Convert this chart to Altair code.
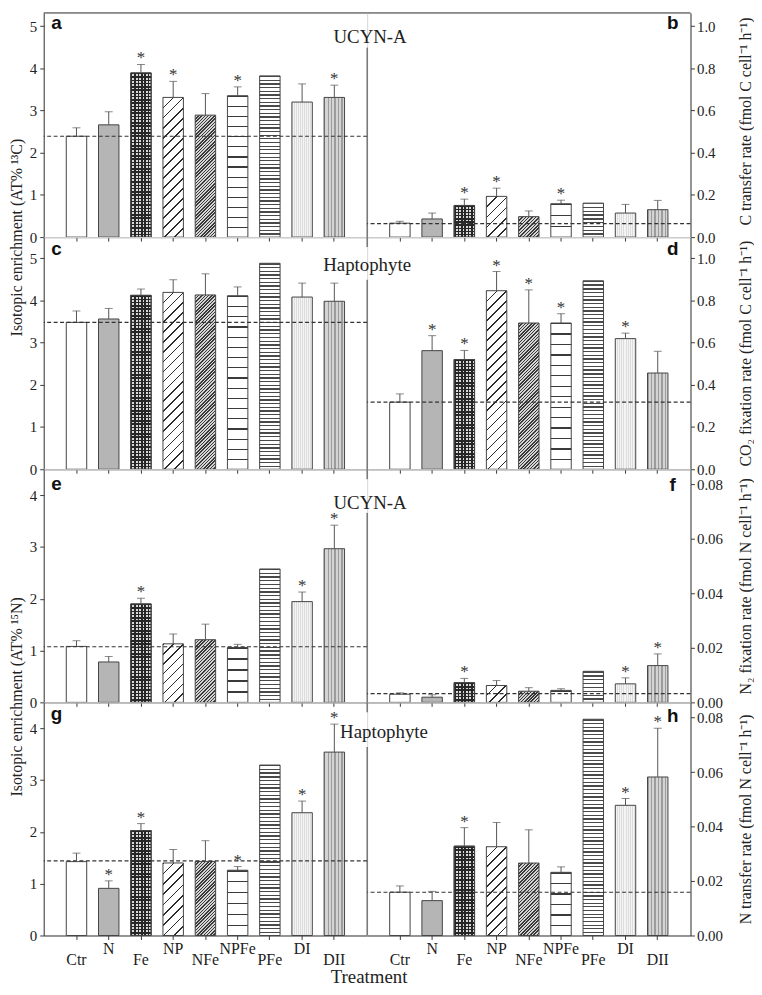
import altair as alt
import pandas as pd

treatments = ["Ctr", "N", "Fe", "NP", "NFe", "NPFe", "PFe", "DI", "DII"]

# a: UCYN-A, 13C enrichment
a_mean = [2.39, 2.66, 3.89, 3.31, 2.89, 3.35, 3.82, 3.20, 3.31]
a_err = [0.20, 0.31, 0.20, 0.38, 0.51, 0.21, 0.00, 0.43, 0.29]
a_sig = [0, 0, 1, 1, 0, 1, 0, 0, 1]
a_ctrl = 2.39
# b: UCYN-A, C transfer rate
b_mean = [0.066, 0.086, 0.150, 0.193, 0.097, 0.158, 0.161, 0.114, 0.130]
b_err = [0.009, 0.028, 0.030, 0.039, 0.027, 0.017, 0.000, 0.041, 0.044]
b_sig = [0, 0, 1, 1, 0, 1, 0, 0, 0]
b_ctrl = 0.064
# c: Haptophyte, 13C enrichment
c_mean = [3.48, 3.56, 4.12, 4.19, 4.13, 4.11, 4.88, 4.08, 3.98]
c_err = [0.27, 0.25, 0.15, 0.30, 0.50, 0.21, 0.00, 0.33, 0.43]
c_sig = [0, 0, 0, 0, 0, 0, 0, 0, 0]
c_ctrl = 3.48
# d: Haptophyte, CO2 fixation rate
d_mean = [0.318, 0.562, 0.520, 0.846, 0.693, 0.693, 0.893, 0.619, 0.456]
d_err = [0.039, 0.071, 0.043, 0.091, 0.157, 0.044, 0.000, 0.026, 0.103]
d_sig = [0, 1, 1, 1, 1, 1, 0, 1, 0]
d_ctrl = 0.318
# e: UCYN-A, 15N enrichment
e_mean = [1.08, 0.78, 1.90, 1.13, 1.21, 1.06, 2.575, 1.945, 2.966]
e_err = [0.11, 0.106, 0.11, 0.19, 0.30, 0.06, 0.00, 0.185, 0.454]
e_sig = [0, 0, 1, 0, 0, 0, 0, 1, 1]
e_ctrl = 1.075
# f: UCYN-A, N2 fixation rate
f_mean = [0.0030, 0.0019, 0.0072, 0.0062, 0.0041, 0.0044, 0.0114, 0.0068, 0.0135]
f_err = [0.0005, 0.0009, 0.0016, 0.0018, 0.0013, 0.0006, 0.0, 0.0022, 0.0043]
f_sig = [0, 0, 1, 0, 0, 0, 0, 1, 1]
f_ctrl = 0.0032
# g: Haptophyte, 15N enrichment
g_mean = [1.426, 0.91, 2.026, 1.40, 1.43, 1.26, 3.29, 2.37, 3.54]
g_err = [0.164, 0.145, 0.134, 0.26, 0.40, 0.07, 0.00, 0.225, 0.54]
g_sig = [0, 1, 1, 0, 0, 1, 0, 1, 1]
g_ctrl = 1.44
# h: Haptophyte, N transfer rate
h_mean = [0.0159, 0.0128, 0.0328, 0.0326, 0.0266, 0.0232, 0.0794, 0.0478, 0.0582]
h_err = [0.0023, 0.0034, 0.0068, 0.0089, 0.0122, 0.0020, 0.0, 0.0025, 0.0179]
h_sig = [0, 0, 1, 0, 0, 0, 0, 1, 1]
h_ctrl = 0.0159

left_ticks_c = [0, 1, 2, 3, 4, 5]
left_ticks_n = [0, 1, 2, 3, 4]
right_ticks_c = [0.0, 0.2, 0.4, 0.6, 0.8, 1.0]
right_ticks_n = [0.0, 0.02, 0.04, 0.06, 0.08]

SERIF = "Liberation Serif, Times New Roman, serif"
SANS = "Liberation Sans, Arial, sans-serif"
INK = "#222222"
LINE = "#3a3a3a"
PW = 326
P_IN, P_OUT = 0.366, 0.70
STEP = PW / (len(treatments) - P_IN + 2 * P_OUT)
BAR_W = STEP * (1 - P_IN)


def stripe_stops(n, frac, line, bg):
    n = max(1, int(round(n)))
    stops = []
    for i in range(n):
        a0 = i / n
        a1 = (i + frac) / n
        a2 = (i + 1) / n
        stops += [{"offset": a0, "color": line}, {"offset": a1, "color": line},
                  {"offset": a1, "color": bg}, {"offset": a2, "color": bg}]
    return stops


def horiz(h_px, period, frac, line, bg):
    return {"gradient": "linear", "x1": 1, "y1": 0, "x2": 1, "y2": 1,
            "stops": stripe_stops(h_px / period, frac, line, bg)}


def vert(period, frac, line, bg):
    return {"gradient": "linear", "x1": 0, "y1": 0, "x2": 1, "y2": 0,
            "stops": stripe_stops(BAR_W / period, frac, line, bg)}


def diag(h_px, period, frac, line, bg, r=1.0):
    w = BAR_W
    h = max(h_px, 1.0)
    c = (r * w + h) / (r * r * w * w + h * h)
    return {"gradient": "linear", "x1": 0, "y1": 0, "x2": c * r * w, "y2": c * h,
            "stops": stripe_stops((r * w + h) / period, frac, line, bg)}


def fill_for(t, h_px):
    if t == "Ctr":
        return "#ffffff"
    if t == "N":
        return "#b5b5b5"
    if t == "Fe":
        return vert(3.3, 0.5, "#262626", "#d8d8d8")
    if t == "NP":
        return diag(h_px, 10.0, 0.16, "#2b2b2b", "#ffffff")
    if t == "NFe":
        return diag(h_px, 3.3, 0.45, "#3a3a3a", "#d4d4d4")
    if t == "NPFe":
        return horiz(h_px, 10.3, 0.12, "#3a3a3a", "#ffffff")
    if t == "PFe":
        return horiz(h_px, 3.7, 0.36, "#4a4a4a", "#ffffff")
    if t == "DI":
        return vert(2.0, 0.5, "#dcdcdc", "#f4f4f4")
    return vert(3.4, 0.4, "#9c9c9c", "#d4d4d4")


one = pd.DataFrame({"k": [0]})


def panel(mean, err, sig, ctrl, dmax, H, side, letter, yvals, yfmt,
          ytitle="", title_y=None, label=None, label_dx=0, label_y=None,
          div_top=False, div_start=None, top_rule=False, bottom=False,
          letter_y=12):
    df = pd.DataFrame({"t": treatments, "mean": mean, "err": err, "sig": sig})
    df["top"] = df["mean"] + df["err"]
    xenc = alt.X("t:N", scale=alt.Scale(domain=treatments, paddingInner=P_IN,
                                        paddingOuter=P_OUT),
                 axis=alt.Axis(title="", labels=False, ticks=True, tickSize=4,
                               tickColor=LINE, domainColor=LINE, tickWidth=1,
                               domainWidth=1))
    yscale = alt.Scale(domain=[0, dmax], nice=False, zero=True)
    if title_y is None:
        title_y = H / 2
    common = dict(values=yvals, format=yfmt, grid=False, tickSize=4,
                  tickColor=LINE, domainColor=LINE, labelFont=SERIF,
                  labelFontSize=15, labelColor=INK, title=ytitle,
                  titleFont=SERIF, titleFontSize=16, titleFontWeight="normal",
                  titleColor=INK, titleAngle=270, titleAlign="center",
                  titleY=title_y)
    if side == "left":
        yaxis = alt.Axis(orient="left", labelPadding=3, titleBaseline="bottom",
                         titleX=-19, **common)
    else:
        yaxis = alt.Axis(orient="right", labelPadding=2, titleBaseline="middle",
                         titleX=55, **common)

    def Y(field):
        return alt.Y(f"{field}:Q", scale=yscale, axis=yaxis)

    base = alt.Chart(df)
    layers = []
    for t, m in zip(treatments, mean):
        hp = m / dmax * H
        layers.append(
            base.transform_filter(alt.datum.t == t)
            .mark_bar(fill=fill_for(t, hp), stroke="#444444", strokeWidth=1)
            .encode(x=xenc, y=Y("mean"))
        )
    fe_h = mean[treatments.index("Fe")] / dmax * H
    layers.append(
        base.transform_filter(alt.datum.t == "Fe")
        .mark_bar(fill=horiz(fe_h, 3.3, 0.45, "#262626", "transparent"),
                  stroke="#444444", strokeWidth=1)
        .encode(x=xenc, y=Y("mean"))
    )
    if top_rule:
        layers.append(alt.Chart(one).mark_rule(color=LINE, strokeWidth=1).encode(
            x=alt.value(0), x2=alt.value(PW), y=alt.value(0)))
    layers.append(
        alt.Chart(pd.DataFrame({"ctrl": [ctrl]}))
        .mark_rule(color="#333333", strokeWidth=1.1, strokeDash=[4, 2.5])
        .encode(y=Y("ctrl"))
    )
    eb = base.transform_filter("datum.err > 0")
    layers.append(eb.mark_rule(color="#555555", strokeWidth=1)
                  .encode(x=xenc, y=Y("mean"), y2="top:Q"))
    layers.append(eb.mark_tick(color="#555555", size=8, thickness=1)
                  .encode(x=xenc, y=Y("top")))
    layers.append(
        base.transform_filter("datum.sig == 1")
        .mark_text(text="*", font=SERIF, fontSize=17, color="#333333",
                   baseline="alphabetic", dy=-1)
        .encode(x=xenc, y=Y("top"))
    )
    lx = 13 if side == "left" else PW - 18
    layers.append(alt.Chart(one).mark_text(
        text=letter, font=SANS, fontSize=19, fontWeight="bold", color="#111111",
        align="center", baseline="middle").encode(x=alt.value(lx), y=alt.value(letter_y)))
    if side == "right":
        if div_top:
            layers.append(alt.Chart(one).mark_rule(color=LINE, strokeWidth=1).encode(
                x=alt.value(0), y=alt.value(0), y2=alt.value(10)))
        layers.append(alt.Chart(one).mark_rule(color=LINE, strokeWidth=1).encode(
            x=alt.value(0), y=alt.value(div_start), y2=alt.value(H)))
        layers.append(alt.Chart(one).mark_text(
            text=label, font=SERIF, fontSize=19, color=INK, align="center",
            baseline="alphabetic").encode(x=alt.value(label_dx), y=alt.value(label_y)))
    if bottom:
        lab = pd.DataFrame({"t": treatments, "row": [i % 2 for i in range(len(treatments))]})
        lb = alt.Chart(lab)
        layers.append(lb.transform_filter("datum.row == 0").mark_text(
            font=SERIF, fontSize=16, color=INK, baseline="alphabetic")
            .encode(x=xenc, y=alt.value(H + 30), text="t:N"))
        layers.append(lb.transform_filter("datum.row == 1").mark_text(
            font=SERIF, fontSize=16, color=INK, baseline="alphabetic")
            .encode(x=xenc, y=alt.value(H + 19), text="t:N"))
        if side == "right":
            layers.append(alt.Chart(one).mark_text(
                text="Treatment", font=SERIF, fontSize=19, color=INK,
                align="center", baseline="alphabetic")
                .encode(x=alt.value(2), y=alt.value(H + 48)))
    return alt.layer(*layers).properties(width=PW, height=H)


H1, H2, H3, H4 = 226, 234, 235, 235
A_MAX = 5.5 * H1 / H2
B_MAX = 1.1 * H1 / H2

pa = panel(a_mean, a_err, a_sig, a_ctrl, A_MAX, H1, "left", "a", left_ticks_c, "d",
           ytitle="Isotopic enrichment (AT% ¹³C)", title_y=H1, top_rule=True,
           letter_y=10)
pb = panel(b_mean, b_err, b_sig, b_ctrl, B_MAX, H1, "right", "b", right_ticks_c, ".1f",
           ytitle="C transfer rate (fmol C cell⁻¹ h⁻¹)", title_y=109,
           label="UCYN-A", label_dx=3, label_y=30, div_start=35, top_rule=True,
           letter_y=10)
pc = panel(c_mean, c_err, c_sig, c_ctrl, 5.5, H2, "left", "c", left_ticks_c, "d")
pd_ = panel(d_mean, d_err, d_sig, d_ctrl, 1.1, H2, "right", "d", right_ticks_c, ".1f",
            ytitle="CO₂ fixation rate (fmol C cell⁻¹ h⁻¹)",
            label="Haptophyte", label_dx=0, label_y=34, div_top=True, div_start=43)
pe = panel(e_mean, e_err, e_sig, e_ctrl, 4.5, H3, "left", "e", left_ticks_n, "d",
           ytitle="Isotopic enrichment (AT% ¹⁵N)", title_y=229, letter_y=15)
pf = panel(f_mean, f_err, f_sig, f_ctrl, 0.0856, H3, "right", "f", right_ticks_n, ".2f",
           ytitle="N₂ fixation rate (fmol N cell⁻¹ h⁻¹)",
           label="UCYN-A", label_dx=3, label_y=40, div_top=True, div_start=44,
           letter_y=16)
pg = panel(g_mean, g_err, g_sig, g_ctrl, 4.5, H4, "left", "g", left_ticks_n, "d",
           bottom=True)
ph = panel(h_mean, h_err, h_sig, h_ctrl, 0.0856, H4, "right", "h", right_ticks_n, ".2f",
           ytitle="N transfer rate (fmol N cell⁻¹ h⁻¹)",
           label="Haptophyte", label_dx=17, label_y=36, div_top=True, div_start=45,
           bottom=True, letter_y=14)

chart = alt.concat(pa, pb, pc, pd_, pe, pf, pg, ph, columns=2, spacing=0,
                   bounds="flush").properties(
    padding={"left": 0, "top": 0, "right": 0, "bottom": 0}
).configure_view(strokeWidth=0).configure(background="white")

chart.save("out.html", embed_options={"renderer": "svg", "actions": False})
